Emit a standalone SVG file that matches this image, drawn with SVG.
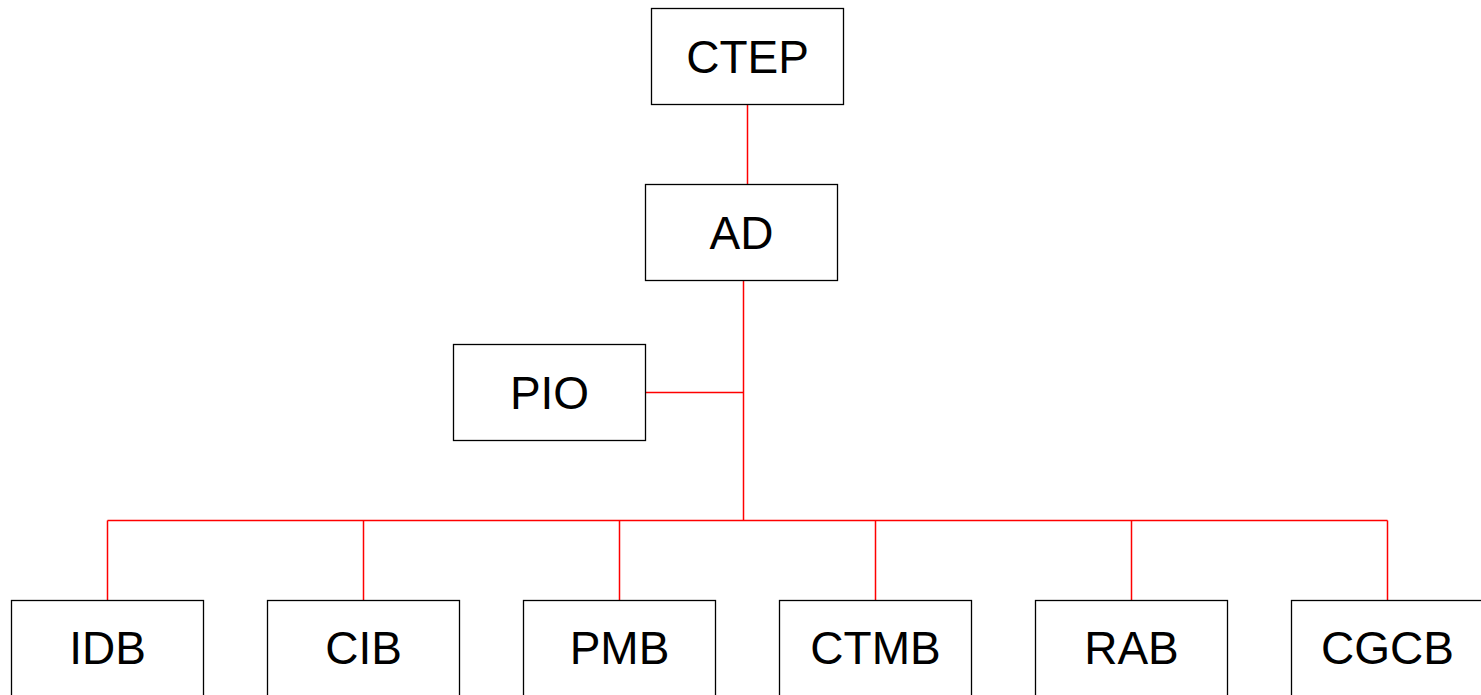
<svg xmlns="http://www.w3.org/2000/svg" width="1481" height="695" viewBox="0 0 1481 695">
<style>
.box{fill:#fff;stroke:#000;stroke-width:1.3}
.lbl{font-family:"Liberation Sans",Arial,sans-serif;font-size:46px;fill:#000;text-anchor:middle}
.con{fill:none;stroke:#ff0000;stroke-width:1.5}
</style>
<rect width="1481" height="695" fill="#fff"/>
<g id="connectors">
<path class="con" d="M747.5 104.5V184.5"/>
<path class="con" d="M743.5 280.5V520.5"/>
<path class="con" d="M645.5 392.5H743.5"/>
<path class="con" d="M107.5 520.5H1387.5"/>
<path class="con" d="M107.5 520.5V600.5M363.5 520.5V600.5M619.5 520.5V600.5M875.5 520.5V600.5M1131.5 520.5V600.5M1387.5 520.5V600.5"/>
</g>
<g id="CTEP"><rect class="box" x="651.5" y="8.5" width="192" height="96"/><text class="lbl" x="747.5" y="73">CTEP</text></g>
<g id="AD"><rect class="box" x="645.5" y="184.5" width="192" height="96"/><text class="lbl" x="741.5" y="248.5">AD</text></g>
<g id="PIO"><rect class="box" x="453.5" y="344.5" width="192" height="96"/><text class="lbl" x="549.5" y="408.5">PIO</text></g>
<g id="IDB"><rect class="box" x="11.5" y="600.5" width="192" height="96"/><text class="lbl" x="107.5" y="664">IDB</text></g>
<g id="CIB"><rect class="box" x="267.5" y="600.5" width="192" height="96"/><text class="lbl" x="363.5" y="664">CIB</text></g>
<g id="PMB"><rect class="box" x="523.5" y="600.5" width="192" height="96"/><text class="lbl" x="619.5" y="664">PMB</text></g>
<g id="CTMB"><rect class="box" x="779.5" y="600.5" width="192" height="96"/><text class="lbl" x="875.5" y="664">CTMB</text></g>
<g id="RAB"><rect class="box" x="1035.5" y="600.5" width="192" height="96"/><text class="lbl" x="1131.5" y="664">RAB</text></g>
<g id="CGCB"><rect class="box" x="1291.5" y="600.5" width="192" height="96"/><text class="lbl" x="1387.5" y="664">CGCB</text></g>
</svg>
